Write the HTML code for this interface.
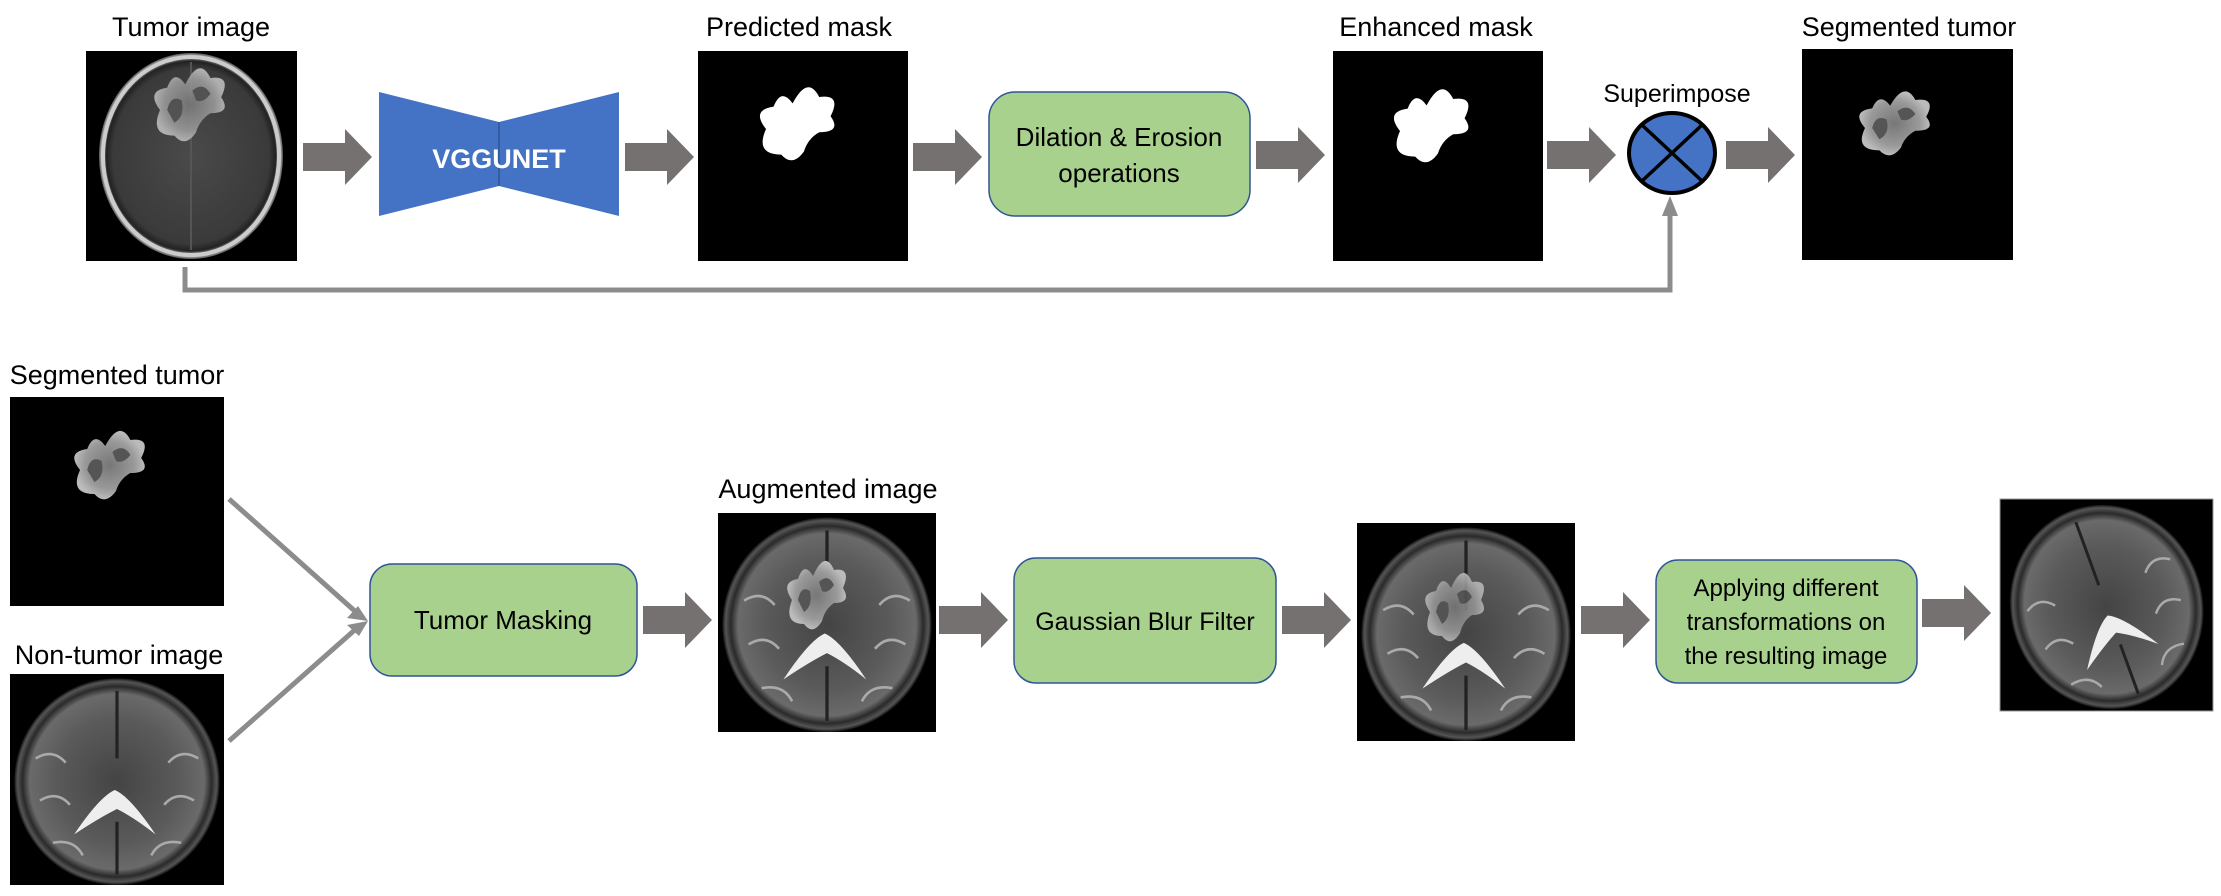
<!DOCTYPE html>
<html><head><meta charset="utf-8"><style>
html,body{margin:0;padding:0;background:#fff}
svg{display:block}
text{font-family:"Liberation Sans",sans-serif;fill:#000}
</style></head><body>
<svg width="2221" height="896" viewBox="0 0 2221 896" xmlns="http://www.w3.org/2000/svg">
<defs>
<radialGradient id="brainT1" cx="50%" cy="50%" r="50%">
<stop offset="0" stop-color="#4a4a4a"/><stop offset="0.85" stop-color="#3a3a3a"/><stop offset="0.92" stop-color="#222"/><stop offset="0.97" stop-color="#bbb"/><stop offset="1" stop-color="#555"/>
</radialGradient>
<radialGradient id="brainT2" cx="50%" cy="50%" r="50%">
<stop offset="0" stop-color="#444"/><stop offset="0.6" stop-color="#5a5a5a"/><stop offset="0.85" stop-color="#6a6a6a"/><stop offset="0.92" stop-color="#2a2a2a"/><stop offset="0.97" stop-color="#555"/><stop offset="1" stop-color="#111"/>
</radialGradient>
<radialGradient id="tum" cx="50%" cy="50%" r="50%">
<stop offset="0" stop-color="#777"/><stop offset="0.7" stop-color="#999"/><stop offset="1" stop-color="#bbb"/>
</radialGradient>
<clipPath id="clipFinal"><rect x="2000" y="499" width="213" height="212"/></clipPath>
<g id="t2brain">
<rect x="0" y="0" width="100" height="100" fill="#000"/>
<ellipse cx="50" cy="51" rx="48" ry="49" fill="url(#brainT2)"/>
<path d="M50 8 L50 40 M50 70 L50 95" stroke="#222" stroke-width="1.5"/>
<path d="M30 76 Q42 58 49 55 Q56 58 68 76 Q58 68 50 64 Q42 68 30 76Z" fill="#eee"/>
<path d="M12 40 Q20 35 26 42 M74 42 Q80 35 88 40 M14 60 Q22 55 28 62 M72 62 Q78 55 86 60 M20 80 Q30 78 34 86 M66 86 Q70 78 80 80" stroke="#aaa" stroke-width="1.2" fill="none"/>
</g>
<g id="tumorblob">
<path d="M0 20 Q-8 8 4 6 Q8 -6 14 4 Q22 -14 28 0 Q40 -2 34 12 Q40 22 28 22 Q22 26 20 34 Q14 44 8 36 Q-6 36 0 20Z" fill="url(#tum)"/>
<path d="M4 20 Q6 10 12 14 Q14 24 8 28Z M18 8 Q24 2 28 10 Q24 16 20 14Z" fill="#555"/>
</g>
<g id="blobmask">
<path d="M0 20 Q-8 8 4 6 Q8 -6 14 4 Q22 -14 28 0 Q40 -2 34 12 Q40 22 28 22 Q22 26 20 34 Q14 44 8 36 Q-6 36 0 20Z" fill="#fff"/>
</g>
<polygon id="arr" points="0,14 42,14 42,0 69,28 42,56 42,42 0,42" fill="#767171"/>
</defs>

<!-- ===== TOP ROW ===== -->
<text x="191" y="36" font-size="27" text-anchor="middle">Tumor image</text>
<rect x="86" y="51" width="211" height="210" fill="#000"/>
<ellipse cx="191" cy="156" rx="92" ry="103" fill="url(#brainT1)"/>
<ellipse cx="191" cy="156" rx="88" ry="99" fill="none" stroke="#ccc" stroke-width="4"/>
<line x1="191" y1="62" x2="191" y2="250" stroke="#555" stroke-width="2"/>
<g transform="translate(160,78) scale(1.8,1.6)" opacity="0.9"><use href="#tumorblob"/></g>

<use href="#arr" x="303" y="129"/>

<polygon points="379,92 499,122 619,92 619,216 499,186 379,216" fill="#4472C4"/>
<line x1="499" y1="122" x2="499" y2="186" stroke="#2F5597" stroke-width="1.5"/>
<text x="499" y="168" font-size="27" font-weight="bold" text-anchor="middle" style="fill:#fff">VGGUNET</text>

<use href="#arr" x="625" y="129"/>

<text x="799" y="36" font-size="27" text-anchor="middle">Predicted mask</text>
<rect x="698" y="51" width="210" height="210" fill="#000"/>
<g transform="translate(766,97) scale(1.9,1.6)"><use href="#blobmask"/></g>

<use href="#arr" x="913" y="129"/>

<rect x="989" y="92" width="261" height="124" rx="26" fill="#A9D18E" stroke="#2F5597" stroke-width="1.5"/>
<text x="1119" y="146" font-size="26" text-anchor="middle">Dilation &amp; Erosion</text>
<text x="1119" y="182" font-size="26" text-anchor="middle">operations</text>

<use href="#arr" x="1256" y="127"/>

<text x="1436" y="36" font-size="27" text-anchor="middle">Enhanced mask</text>
<rect x="1333" y="51" width="210" height="210" fill="#000"/>
<g transform="translate(1400,99) scale(1.9,1.6)"><use href="#blobmask"/></g>

<use href="#arr" x="1547" y="127"/>

<text x="1677" y="102" font-size="25" text-anchor="middle">Superimpose</text>
<ellipse cx="1672" cy="153" rx="43" ry="40" fill="#4472C4" stroke="#000" stroke-width="4"/>
<line x1="1642" y1="125" x2="1702" y2="181" stroke="#000" stroke-width="3.5"/>
<line x1="1702" y1="125" x2="1642" y2="181" stroke="#000" stroke-width="3.5"/>

<use href="#arr" x="1726" y="127"/>

<text x="1909" y="36" font-size="27" text-anchor="middle">Segmented tumor</text>
<rect x="1802" y="49" width="211" height="211" fill="#000"/>
<g transform="translate(1865,100) scale(1.8,1.4)"><use href="#tumorblob"/></g>

<!-- feedback connector -->
<polyline points="185,267 185,290 1670,290 1670,214" fill="none" stroke="#8c8c8c" stroke-width="5"/>
<polygon points="1662,216 1678,216 1670,196" fill="#8c8c8c"/>

<!-- ===== BOTTOM ROW ===== -->
<text x="117" y="384" font-size="27" text-anchor="middle">Segmented tumor</text>
<rect x="10" y="397" width="214" height="209" fill="#000"/>
<g transform="translate(80,440) scale(1.8,1.5)"><use href="#tumorblob"/></g>

<text x="119" y="664" font-size="27" text-anchor="middle">Non-tumor image</text>
<g transform="translate(10,674) scale(2.14,2.11)"><use href="#t2brain"/></g>

<line x1="229" y1="499" x2="357" y2="613" stroke="#8c8c8c" stroke-width="5"/>
<line x1="229" y1="741" x2="357" y2="628" stroke="#8c8c8c" stroke-width="5"/>
<polygon points="368,621 347,618 358,606" fill="#8c8c8c"/>
<polygon points="368,621 359,636 347,625" fill="#8c8c8c"/>

<rect x="370" y="564" width="267" height="112" rx="22" fill="#A9D18E" stroke="#2F5597" stroke-width="1.5"/>
<text x="503" y="629" font-size="26" text-anchor="middle">Tumor Masking</text>

<use href="#arr" x="643" y="592"/>

<text x="828" y="498" font-size="27" text-anchor="middle">Augmented image</text>
<g transform="translate(718,513) scale(2.18,2.19)"><use href="#t2brain"/></g>
<g transform="translate(792,570) scale(1.5,1.5)"><use href="#tumorblob"/></g>

<use href="#arr" x="939" y="592"/>

<rect x="1014" y="558" width="262" height="125" rx="22" fill="#A9D18E" stroke="#2F5597" stroke-width="1.5"/>
<text x="1145" y="630" font-size="25" text-anchor="middle">Gaussian Blur Filter</text>

<use href="#arr" x="1282" y="592"/>

<g transform="translate(1357,523) scale(2.18,2.18)"><use href="#t2brain"/></g>
<g transform="translate(1430,582) scale(1.5,1.5)" opacity="0.85"><use href="#tumorblob"/></g>

<use href="#arr" x="1581" y="592"/>

<rect x="1656" y="560" width="261" height="123" rx="22" fill="#A9D18E" stroke="#2F5597" stroke-width="1.5"/>
<text x="1786" y="596" font-size="24" text-anchor="middle">Applying different</text>
<text x="1786" y="630" font-size="24" text-anchor="middle">transformations on</text>
<text x="1786" y="664" font-size="24" text-anchor="middle">the resulting image</text>

<use href="#arr" x="1922" y="585"/>

<rect x="2000" y="499" width="213" height="212" fill="#000"/>
<g clip-path="url(#clipFinal)">
<g transform="translate(2106,605) rotate(-20) translate(-100,-105) scale(2.0,2.1)"><use href="#t2brain"/></g>
</g>
<rect x="2000" y="499" width="213" height="212" fill="none" stroke="#999" stroke-width="1"/>
</svg>
</body></html>
